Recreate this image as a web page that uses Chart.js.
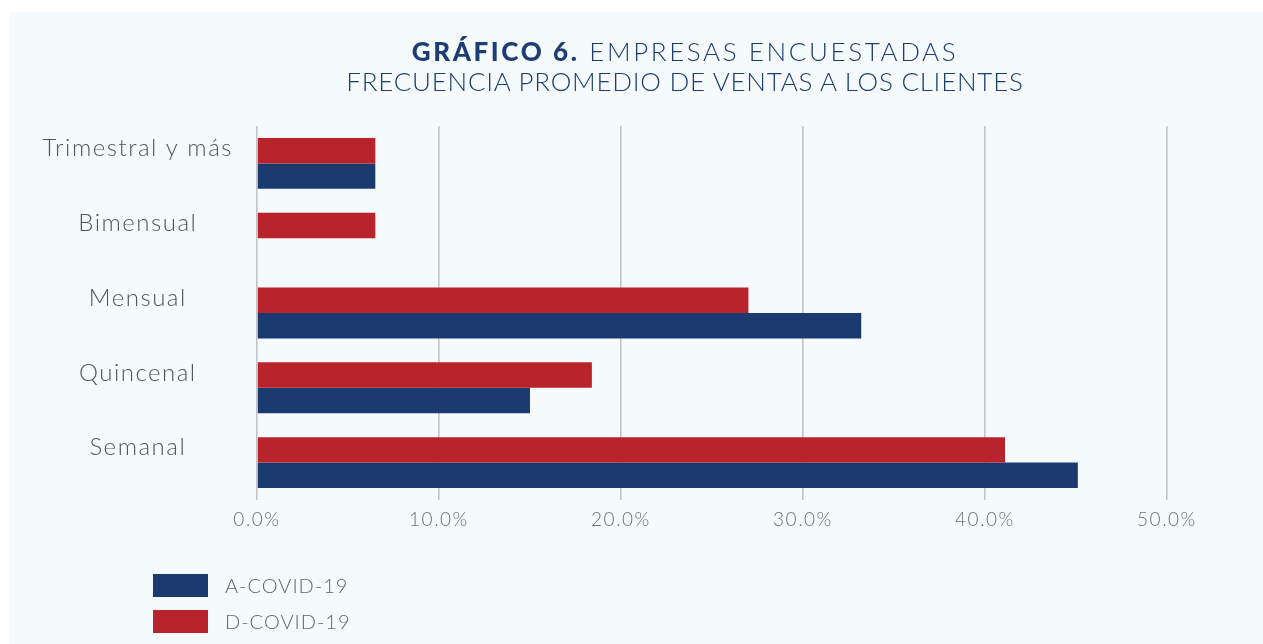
<!DOCTYPE html>
<html>
<head>
<meta charset="utf-8">
<script src="https://cdn.jsdelivr.net/npm/chart.js@4.4.1/dist/chart.umd.min.js"></script>
<style>
  html, body { margin: 0; padding: 0; background: #ffffff; }
  body { width: 1263px; height: 644px; position: relative; overflow: hidden; font-family: Lato, "Open Sans", sans-serif; }
  #panel { position: absolute; left: 10px; top: 12px; right: 0; bottom: 0; background: #f5fafd; }
  #wrap { position: absolute; left: 0; top: 0; width: 1263px; height: 644px; }
  #title { position: absolute; left: 0; top: 36px; width: 1370px; text-align: center; color: #1e3d73; font-size: 26px; line-height: 30px; font-weight: 300; }
  #title .l1 { letter-spacing: 2.6px; }
  #title .l2 { letter-spacing: 0.75px; }
  #title b { font-weight: 900; }
  #legend { position: absolute; left: 153px; top: 567px; }
  .li { display: flex; align-items: center; height: 36px; font-size: 20px; color: #666; font-weight: 300; letter-spacing: 1px; }
  .sw { width: 55px; height: 23px; margin-right: 17px; }
</style>
</head>
<body>
<div id="panel"></div>
<div id="wrap"><canvas id="c" width="1263" height="644"></canvas></div>
<div id="title"><div class="l1"><b>GRÁFICO 6.</b> EMPRESAS ENCUESTADAS</div><div class="l2">FRECUENCIA PROMEDIO DE VENTAS A LOS CLIENTES</div></div>
<div id="legend"></div>
<script>
const categories = ["Trimestral y más", "Bimensual", "Mensual", "Quincenal", "Semanal"];
const dCovid = [6.5, 6.5, 27.0, 18.4, 41.1];   // D-COVID-19 (%)
const aCovid = [6.5, 0, 33.2, 15.0, 45.1];     // A-COVID-19 (%)
const xTicks = [0, 10, 20, 30, 40, 50];
const seriesNames = ["A-COVID-19", "D-COVID-19"];
const RED = "#b9232b", NAVY = "#1b3a6f";

const legend = document.getElementById("legend");
[[seriesNames[0], NAVY], [seriesNames[1], RED]].forEach(([n, c]) => {
  const d = document.createElement("div");
  d.className = "li";
  d.innerHTML = '<span class="sw" style="background:' + c + '"></span><span>' + n + '</span>';
  legend.appendChild(d);
});

const spacingPlugin = {
  id: "spacing",
  beforeUpdate(chart) { chart.ctx.letterSpacing = "1.5px"; },
  beforeDraw(chart) { chart.ctx.letterSpacing = "1.5px"; }
};

new Chart(document.getElementById("c"), {
  type: "bar",
  plugins: [spacingPlugin],
  data: {
    labels: categories,
    datasets: [
      { label: seriesNames[1], data: dCovid, backgroundColor: RED, borderWidth: 0 },
      { label: seriesNames[0], data: aCovid, backgroundColor: NAVY, borderWidth: 0 }
    ]
  },
  options: {
    indexAxis: "y",
    responsive: false,
    animation: false,
    categoryPercentage: 0.68,
    barPercentage: 1.0,
    layout: { padding: { left: 20, right: 96, top: 126, bottom: 104 } },
    plugins: { legend: { display: false }, title: { display: false }, tooltip: { enabled: false } },
    scales: {
      x: {
        min: 0, max: 50,
        afterBuildTicks: (ax) => { ax.ticks = xTicks.map(v => ({ value: v })); },
        afterFit: (ax) => { ax.height = 40; },
        grid: { color: "#c4c4c4", lineWidth: 1.6, drawTicks: false },
        border: { display: false },
        ticks: {
          padding: 8,
          color: "#707070",
          font: { family: "Lato", size: 19, weight: 300 },
          callback: (v) => Number(v).toFixed(1) + "%"
        }
      },
      y: {
        afterFit: (ax) => { ax.width = 237; },
        grid: { display: false },
        border: { display: false },
        ticks: {
          crossAlign: "center",
          labelOffset: -15,
          padding: 16,
          color: "#555555",
          font: { family: "Lato", size: 24, weight: 300 }
        }
      }
    }
  }
});
</script>
</body>
</html>
